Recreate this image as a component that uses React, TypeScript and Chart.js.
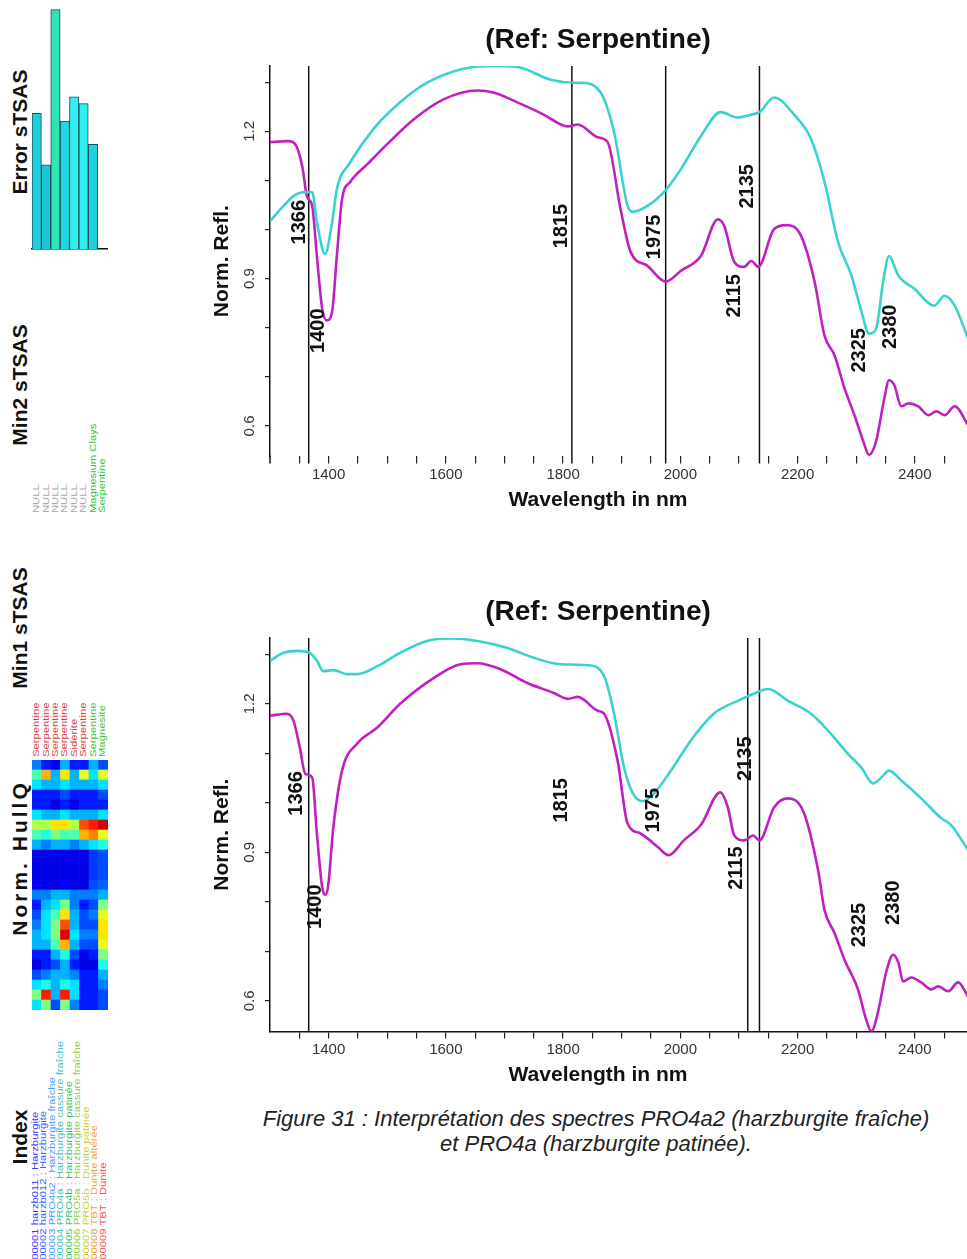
import React, { useEffect, useRef } from "react";
import { Chart, registerables } from "chart.js";

Chart.register(...registerables);

const FONT = "'Liberation Sans', Arial, Helvetica, sans-serif";
Chart.defaults.font.family = FONT;

// ---------------- Spectra : top panel (PRO4a2) ----------------
const topRefWl = [1300, 1323, 1340, 1357, 1372, 1380, 1394, 1406, 1414, 1437, 1476, 1522, 1568, 1625, 1681, 1722, 1779, 1818, 1830, 1864, 1887, 1910, 1919, 1944, 1972, 2001, 2035, 2069, 2098, 2121, 2135, 2160, 2194, 2223, 2246, 2269, 2292, 2309, 2322, 2334, 2346, 2356, 2372, 2399, 2433, 2451, 2468, 2491];
const topRefVal = [1.017, 1.048, 1.068, 1.076, 1.076, 1.015, 0.95, 1.015, 1.082, 1.137, 1.204, 1.259, 1.299, 1.326, 1.333, 1.331, 1.305, 1.299, 1.299, 1.279, 1.198, 1.048, 1.036, 1.048, 1.076, 1.123, 1.19, 1.239, 1.228, 1.234, 1.239, 1.269, 1.234, 1.184, 1.097, 0.975, 0.906, 0.833, 0.788, 0.798, 0.894, 0.946, 0.906, 0.88, 0.845, 0.865, 0.845, 0.778];
const topSampleWl = [1300, 1331, 1343, 1355, 1363, 1372, 1380, 1389, 1397, 1406, 1414, 1423, 1437, 1466, 1500, 1545, 1596, 1654, 1681, 1722, 1767, 1796, 1808, 1825, 1859, 1876, 1898, 1915, 1944, 1975, 2001, 2035, 2064, 2075, 2092, 2109, 2121, 2133, 2160, 2181, 2206, 2229, 2246, 2263, 2280, 2297, 2312, 2322, 2334, 2348, 2356, 2365, 2377, 2389, 2406, 2423, 2437, 2451, 2468, 2491];
const topSampleVal = [1.178, 1.18, 1.174, 1.129, 1.068, 1.048, 0.946, 0.839, 0.815, 0.833, 0.946, 1.062, 1.097, 1.133, 1.174, 1.224, 1.265, 1.283, 1.279, 1.259, 1.234, 1.214, 1.21, 1.214, 1.188, 1.178, 1.042, 0.955, 0.926, 0.894, 0.916, 0.946, 1.021, 1.007, 0.934, 0.924, 0.936, 0.924, 1.001, 1.009, 0.987, 0.894, 0.784, 0.744, 0.677, 0.622, 0.569, 0.541, 0.569, 0.656, 0.693, 0.683, 0.64, 0.646, 0.64, 0.622, 0.63, 0.622, 0.64, 0.602];

// ---------------- Spectra : bottom panel (PRO4a) ----------------
const botRefWl = [1300, 1323, 1346, 1368, 1380, 1391, 1408, 1432, 1449, 1483, 1522, 1568, 1608, 1654, 1705, 1750, 1796, 1842, 1870, 1887, 1904, 1919, 1936, 1955, 1984, 2018, 2057, 2098, 2124, 2150, 2184, 2223, 2252, 2286, 2309, 2329, 2343, 2356, 2377, 2411, 2445, 2462, 2491];
const botRefVal = [1.287, 1.303, 1.307, 1.303, 1.287, 1.266, 1.268, 1.26, 1.26, 1.276, 1.303, 1.327, 1.332, 1.327, 1.313, 1.293, 1.28, 1.278, 1.256, 1.18, 1.071, 1.019, 1.003, 1.019, 1.065, 1.126, 1.18, 1.206, 1.22, 1.23, 1.206, 1.18, 1.146, 1.099, 1.071, 1.039, 1.051, 1.065, 1.045, 1.009, 0.969, 0.955, 0.904];
const botSampleWl = [1300, 1329, 1340, 1351, 1360, 1372, 1380, 1389, 1394, 1399, 1408, 1423, 1449, 1483, 1522, 1579, 1625, 1654, 1693, 1739, 1784, 1808, 1825, 1859, 1870, 1893, 1910, 1932, 1962, 1980, 2006, 2035, 2068, 2081, 2092, 2109, 2124, 2135, 2160, 2184, 2211, 2235, 2246, 2263, 2280, 2303, 2317, 2326, 2337, 2351, 2363, 2372, 2380, 2394, 2411, 2428, 2440, 2457, 2474, 2491];
const botSampleVal = [1.176, 1.18, 1.166, 1.111, 1.059, 1.051, 0.938, 0.83, 0.814, 0.83, 0.95, 1.065, 1.12, 1.152, 1.2, 1.252, 1.28, 1.282, 1.27, 1.242, 1.222, 1.21, 1.214, 1.186, 1.18, 1.085, 0.958, 0.938, 0.91, 0.894, 0.924, 0.955, 1.021, 0.991, 0.934, 0.924, 0.934, 0.924, 0.991, 1.009, 0.979, 0.864, 0.783, 0.737, 0.683, 0.623, 0.562, 0.538, 0.576, 0.657, 0.693, 0.677, 0.639, 0.647, 0.637, 0.623, 0.629, 0.619, 0.637, 0.608];

// ---------------- Axes ----------------
const xTickValues = [1350, 1400, 1450, 1500, 1550, 1600, 1650, 1700, 1750, 1800, 1850, 1900, 1950, 2000, 2050, 2100, 2150, 2200, 2250, 2300, 2350, 2400, 2450, 2500];
const xLabelledTicks = [1400, 1600, 1800, 2000, 2200, 2400];
const yTickValues = [0.6, 0.7, 0.8, 0.9, 1.0, 1.1, 1.2, 1.3];
const yLabelledTicks = [0.6, 0.9, 1.2];

// ---------------- Absorption features ----------------
const topMarkerLines = [1366, 1815, 1975, 2135];
const botMarkerLines = [1366, 2115, 2135];
const featureText = ["1366", "1400", "1815", "1975", "2135", "2115", "2325", "2380"];
const topFeatureWl = [1350, 1382, 1797, 1956, 2114, 2093, 2305, 2358];
const topFeatureVal = [1.015, 0.794, 1.007, 0.985, 1.088, 0.865, 0.754, 0.802];
const botFeatureWl = [1346, 1377, 1797, 1955, 2112, 2095, 2305, 2363];
const botFeatureVal = [1.019, 0.79, 1.005, 0.985, 1.089, 0.868, 0.753, 0.798];

// ---------------- Side panel ----------------
const indexIds = ["000001", "000002", "000003", "000004", "000005", "000006", "000007", "000008"];
const errorValues = [1.4, 0.87, 2.47, 1.32, 1.57, 1.5, 1.08, 0];
const errorColors = ["#1fcfdd", "#1cc5d5", "#2ee6b4", "#20d5e6", "#30eff0", "#30eff0", "#20d2e0", "#20d2e0"];
const min2Text = ["NULL", "NULL", "NULL", "NULL", "NULL", "NULL", "Magnesium Clays", "Serpentine"];
const min2Color = ["#a8a8a8", "#a8a8a8", "#a8a8a8", "#a8a8a8", "#a8a8a8", "#a8a8a8", "#2fbf3a", "#2fbf3a"];
const min1Text = ["Serpentine", "Serpentine", "Serpentine", "Serpentine", "Siderite", "Serpentine", "Serpentine", "Magnesite"];
const min1Color = ["#d83a3a", "#d83a3a", "#d83a3a", "#d83a3a", "#d83a3a", "#d83a3a", "#3cbf3c", "#3cbf3c"];
const heatRows = [
  [0.25, 0.15, 0.12, 0.3, 0.15, 0.15, 0.3, 0.2],
  [0.45, 0.7, 0.3, 0.65, 0.3, 0.6, 0.35, 0.6],
  [0.35, 0.3, 0.3, 0.35, 0.3, 0.3, 0.3, 0.35],
  [0.15, 0.15, 0.15, 0.2, 0.15, 0.15, 0.15, 0.2],
  [0.15, 0.15, 0.1, 0.15, 0.1, 0.15, 0.15, 0.15],
  [0.35, 0.3, 0.3, 0.35, 0.3, 0.3, 0.3, 0.35],
  [0.55, 0.55, 0.65, 0.65, 0.55, 0.8, 0.85, 0.92],
  [0.45, 0.4, 0.5, 0.45, 0.45, 0.7, 0.75, 0.6],
  [0.3, 0.25, 0.3, 0.3, 0.25, 0.3, 0.35, 0.4],
  [0.1, 0.1, 0.1, 0.1, 0.1, 0.1, 0.18, 0.2],
  [0.1, 0.1, 0.1, 0.1, 0.1, 0.1, 0.18, 0.2],
  [0.1, 0.1, 0.1, 0.1, 0.1, 0.1, 0.18, 0.2],
  [0.12, 0.1, 0.1, 0.12, 0.1, 0.1, 0.2, 0.22],
  [0.25, 0.25, 0.3, 0.3, 0.25, 0.25, 0.25, 0.3],
  [0.15, 0.3, 0.35, 0.5, 0.25, 0.15, 0.2, 0.5],
  [0.2, 0.35, 0.45, 0.65, 0.3, 0.2, 0.25, 0.6],
  [0.25, 0.35, 0.5, 0.8, 0.3, 0.2, 0.2, 0.65],
  [0.3, 0.35, 0.5, 0.9, 0.35, 0.25, 0.25, 0.65],
  [0.3, 0.3, 0.45, 0.7, 0.3, 0.2, 0.2, 0.6],
  [0.15, 0.15, 0.3, 0.4, 0.2, 0.1, 0.15, 0.5],
  [0.1, 0.15, 0.2, 0.3, 0.15, 0.1, 0.1, 0.4],
  [0.2, 0.25, 0.3, 0.3, 0.25, 0.15, 0.15, 0.3],
  [0.35, 0.4, 0.3, 0.4, 0.35, 0.15, 0.15, 0.25],
  [0.5, 0.85, 0.3, 0.85, 0.35, 0.15, 0.15, 0.2],
  [0.35, 0.5, 0.2, 0.5, 0.25, 0.15, 0.15, 0.2],
];
const indexText = [
  "000001 harzb011 : Harzburgite",
  "000002 harzb012 : Harzburgite",
  "000003 PRO4a2 : Harzburgite fraîche",
  "000004 PRO4a : Harzburgite cassure fraîche",
  "000005 PRO4b : Harzburgite patinée",
  "000006 PRO5a : Harzburgite cassure fraîche",
  "000007 PRO5b : Dunite patinée",
  "000008 TBT : Dunite altérée",
  "000009 TBT : Dunite",
];
const indexColor = ["#3a3aff", "#4060ff", "#40a0ff", "#40c0c0", "#40c060", "#90cc40", "#cccc40", "#eea040", "#ee5050"];

const CYAN = "#3ad2cc";
const MAGENTA = "#c21fc2";

function zip(xs: number[], ys: number[]) {
  return xs.map((x, i) => ({ x, y: ys[i] }));
}

function jet(v: number) {
  const c = (t: number) => Math.max(0, Math.min(1, t));
  const r = c(1.5 - Math.abs(4 * v - 3));
  const g = c(1.5 - Math.abs(4 * v - 2));
  const b = c(1.5 - Math.abs(4 * v - 1));
  return `rgb(${Math.round(r * 255)},${Math.round(g * 255)},${Math.round(b * 255)})`;
}

const markerPlugin = {
  id: "markers",
  beforeDatasetsDraw(chart: any, _args: any, opts: any) {
    const { ctx, chartArea, scales } = chart;
    const x = scales.x;
    ctx.save();
    ctx.strokeStyle = "#111";
    ctx.lineWidth = 1.5;
    for (const wl of opts.lines) {
      const px = x.getPixelForValue(wl);
      ctx.beginPath();
      ctx.moveTo(px, chartArea.top);
      ctx.lineTo(px, chartArea.bottom + opts.extend);
      ctx.stroke();
    }
    if (opts.extend) {
      ctx.beginPath();
      ctx.moveTo(chartArea.left, chartArea.bottom - 1);
      ctx.lineTo(chartArea.left, chartArea.bottom + opts.extend);
      ctx.stroke();
    }
    ctx.restore();
  },
  afterDatasetsDraw(chart: any, _args: any, opts: any) {
    const { ctx, scales } = chart;
    ctx.save();
    ctx.fillStyle = "#111";
    ctx.font = `bold 20px ${FONT}`;
    ctx.textAlign = "center";
    ctx.textBaseline = "middle";
    opts.text.forEach((t: string, i: number) => {
      const px = scales.x.getPixelForValue(opts.wl[i]);
      const py = scales.y.getPixelForValue(opts.val[i]);
      ctx.save();
      ctx.translate(px, py);
      ctx.rotate(-Math.PI / 2);
      ctx.fillText(t, 0, 0);
      ctx.restore();
    });
    ctx.restore();
  },
};

function spectrumConfig(p: any) {
  return {
    type: "line",
    data: {
      datasets: [
        {
          label: "Serpentine (référence)",
          data: zip(p.refWl, p.refVal),
          borderColor: CYAN,
          borderWidth: 2.6,
          pointRadius: 0,
          cubicInterpolationMode: "monotone",
          fill: false,
        },
        {
          label: p.sampleName,
          data: zip(p.sampleWl, p.sampleVal),
          borderColor: MAGENTA,
          borderWidth: 2.6,
          pointRadius: 0,
          cubicInterpolationMode: "monotone",
          fill: false,
        },
      ],
    },
    options: {
      responsive: false,
      animation: false,
      events: [],
      layout: { padding: 0 },
      plugins: {
        legend: { display: false },
        tooltip: { enabled: false },
        title: {
          display: true,
          text: "(Ref: Serpentine)",
          color: "#111",
          font: { size: 28, weight: "bold", family: FONT },
          padding: { top: 23.2, bottom: 9.2 },
        },
        subtitle: {
          display: true,
          position: "bottom",
          text: "Wavelength in nm",
          color: "#111",
          font: { size: 21, weight: "bold", family: FONT },
          padding: { top: 2.4, bottom: 2 },
        },
        markers: {
          lines: p.markers,
          extend: p.extend,
          text: featureText,
          wl: p.featWl,
          val: p.featVal,
        },
      },
      scales: {
        x: {
          type: "linear",
          min: 1300,
          max: 2530,
          afterBuildTicks: (s: any) => {
            s.ticks = xTickValues.map((v) => ({ value: v }));
          },
          ticks: {
            autoSkip: false,
            maxRotation: 0,
            minRotation: 0,
            padding: 2,
            color: "#333",
            font: { size: 15, family: FONT },
            callback: (v: number) => (xLabelledTicks.includes(v) ? String(v) : ""),
          },
          grid: { drawOnChartArea: false, drawTicks: true, tickLength: 7, color: "#222", lineWidth: 1.2 },
          border: { display: p.bottomBorder, color: "#111", width: 1.5 },
        },
        y: {
          type: "linear",
          min: 0.538,
          max: 1.333,
          afterBuildTicks: (s: any) => {
            s.ticks = yTickValues.map((v) => ({ value: v }));
          },
          afterFit: (s: any) => {
            s.width = 65;
          },
          ticks: {
            minRotation: 90,
            maxRotation: 90,
            crossAlign: "center",
            padding: 5,
            color: "#333",
            font: { size: 15, family: FONT },
            callback: (v: number) =>
              yLabelledTicks.some((t) => Math.abs(t - v) < 1e-6) ? v.toFixed(1) : "",
          },
          grid: { drawOnChartArea: false, drawTicks: true, tickLength: 5, color: "#222", lineWidth: 1.2 },
          border: { display: true, color: "#111", width: 1.5 },
          title: {
            display: true,
            text: "Norm. Refl.",
            color: "#111",
            font: { size: 21, weight: "bold", family: FONT },
            padding: { top: 5, bottom: 0 },
          },
        },
      },
    },
    plugins: [markerPlugin],
  };
}

function errorConfig() {
  return {
    type: "bar",
    data: {
      labels: indexIds,
      datasets: [
        {
          label: "Error sTSAS",
          data: errorValues,
          backgroundColor: errorColors,
          borderColor: "#1d4a52",
          borderWidth: 1,
          categoryPercentage: 1,
          barPercentage: 1,
        },
      ],
    },
    options: {
      responsive: false,
      animation: false,
      events: [],
      layout: { padding: { left: 4, right: 6, top: 0, bottom: 5 } },
      plugins: { legend: { display: false }, tooltip: { enabled: false } },
      scales: {
        x: { grid: { display: false }, ticks: { display: false }, border: { display: true, color: "#111", width: 1.5 } },
        y: { display: false, min: 0, max: 2.57 },
      },
    },
  };
}

function heatConfig() {
  const rows = heatRows.slice().reverse();
  return {
    type: "bar",
    data: {
      labels: indexIds,
      datasets: rows.map((row, i) => ({
        label: "row" + i,
        data: row.map(() => 1),
        backgroundColor: row.map(jet),
        borderWidth: 0,
        categoryPercentage: 1,
        barPercentage: 1,
        stack: "hq",
      })),
    },
    options: {
      responsive: false,
      animation: false,
      events: [],
      layout: { padding: 0 },
      plugins: { legend: { display: false }, tooltip: { enabled: false } },
      scales: {
        x: { display: false, stacked: true },
        y: { display: false, stacked: true, min: 0, max: heatRows.length },
      },
    },
  };
}

function ChartCanvas({ make, left, top, width, height }: any) {
  const ref = useRef<HTMLCanvasElement>(null);
  useEffect(() => {
    const chart = new Chart(ref.current as HTMLCanvasElement, make());
    return () => chart.destroy();
  }, []);
  return (
    <canvas
      ref={ref}
      width={width}
      height={height}
      style={{ position: "absolute", left, top, width, height }}
    />
  );
}

function BigLabel({ text, cx, cy, spacing = 0 }: any) {
  return (
    <div
      style={{
        position: "absolute",
        left: cx,
        top: cy,
        transform: "translate(-50%, -50%) rotate(-90deg)",
        font: `bold 21px ${FONT}`,
        letterSpacing: spacing,
        color: "#111",
        whiteSpace: "nowrap",
        lineHeight: "24px",
      }}
    >
      {text}
    </div>
  );
}

function SmallColumn({ text, cx, bottom, color, size = 9, stretch = 1.25 }: any) {
  return (
    <div
      style={{
        position: "absolute",
        left: cx - size / 2,
        top: bottom,
        transformOrigin: "0 0",
        transform: `rotate(-90deg) scaleX(${stretch})`,
        font: `${size}px ${FONT}`,
        lineHeight: `${size}px`,
        color,
        whiteSpace: "nowrap",
      }}
    >
      {text}
    </div>
  );
}

export default function App() {
  const colX = (i: number) => 32 + 9.4 * (i + 0.5);
  return (
    <div
      style={{
        position: "absolute",
        left: 0,
        top: 0,
        width: 967,
        height: 1259,
        overflow: "hidden",
        background: "#fff",
        fontFamily: FONT,
      }}
    >
      {/* side panel */}
      <BigLabel text="Error sTSAS" cx={20} cy={132} />
      <ChartCanvas make={errorConfig} left={28} top={0} width={85} height={262} />
      <BigLabel text="Min2 sTSAS" cx={20} cy={385} />
      {min2Text.map((t, i) => (
        <SmallColumn key={"m2" + i} text={t} cx={colX(i)} bottom={513} color={min2Color[i]} />
      ))}
      <BigLabel text="Min1 sTSAS" cx={20} cy={628} />
      {min1Text.map((t, i) => (
        <SmallColumn key={"m1" + i} text={t} cx={colX(i)} bottom={757} color={min1Color[i]} />
      ))}
      <BigLabel text="Norm. HullQ" cx={20} cy={858} spacing={3} />
      <ChartCanvas make={heatConfig} left={32} top={760} width={76} height={250} />
      <BigLabel text="Index" cx={20} cy={1137} />
      {indexText.map((t, i) => (
        <SmallColumn key={"ix" + i} text={t} cx={35 + 8.5 * i} bottom={1266} color={indexColor[i]} />
      ))}

      {/* spectra */}
      <ChartCanvas
        make={() =>
          spectrumConfig({
            refWl: topRefWl,
            refVal: topRefVal,
            sampleWl: topSampleWl,
            sampleVal: topSampleVal,
            sampleName: "PRO4a2",
            markers: topMarkerLines,
            featWl: topFeatureWl,
            featVal: topFeatureVal,
            bottomBorder: false,
            extend: 7,
          })
        }
        left={205}
        top={0}
        width={786}
        height={515}
      />
      <ChartCanvas
        make={() =>
          spectrumConfig({
            refWl: botRefWl,
            refVal: botRefVal,
            sampleWl: botSampleWl,
            sampleVal: botSampleVal,
            sampleName: "PRO4a",
            markers: botMarkerLines,
            featWl: botFeatureWl,
            featVal: botFeatureVal,
            bottomBorder: true,
            extend: 0,
          })
        }
        left={205}
        top={572}
        width={786}
        height={518}
      />

      {/* caption */}
      <div
        style={{
          position: "absolute",
          left: 196,
          top: 1106,
          width: 800,
          textAlign: "center",
          font: `italic 22px ${FONT}`,
          lineHeight: "25px",
          color: "#222",
        }}
      >
        Figure 31 : Interprétation des spectres PRO4a2 (harzburgite fraîche)
        <br />
        et PRO4a (harzburgite patinée).
      </div>
    </div>
  );
}
